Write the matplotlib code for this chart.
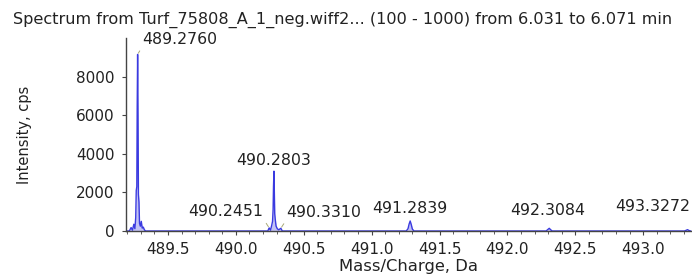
import numpy as np
import matplotlib.pyplot as plt
from matplotlib.ticker import MultipleLocator

plt.rcParams['font.family'] = ['DejaVu Sans']

# 谱图数据（轮廓点：质荷比 / 强度）
mz = [489.19, 489.215, 489.228, 489.238, 489.248, 489.256, 489.262, 489.266, 489.270,
      489.273, 489.276, 489.279, 489.282, 489.286, 489.290, 489.296, 489.303, 489.310,
      489.318, 489.326, 489.335,
      490.235, 490.245, 490.255, 490.264, 490.270, 490.274, 490.277, 490.2803, 490.283,
      490.286, 490.290, 490.296, 490.305, 490.315, 490.331, 490.342,
      491.255, 491.268, 491.276, 491.2839, 491.292, 491.300, 491.312,
      492.285, 492.300, 492.3084, 492.318, 492.330,
      493.305, 493.318, 493.3272, 493.336, 493.35]
intensity = [0, 0, 180, 40, 350, 120, 700, 2100, 2300,
             6500, 9150, 6000, 1900, 1500, 400, 250, 500, 150,
             200, 60, 0,
             0, 160, 40, 300, 500, 1100, 2300, 3100, 2100,
             900, 600, 250, 120, 60, 140, 0,
             0, 120, 360, 520, 330, 100, 0,
             0, 90, 140, 70, 0,
             0, 40, 70, 30, 0]

# 标注的峰
peak_mz = [489.2760, 490.2803, 490.2451, 490.3310, 491.2839, 492.3084, 493.3272]
peak_int = [9150, 3100, 160, 140, 520, 140, 70]
peak_labels = ['489.2760', '490.2803', '490.2451', '490.3310', '491.2839', '492.3084', '493.3272']

y_ticks = [0, 2000, 4000, 6000, 8000]
x_range = (489.19, 493.36)
y_range = (0, 10000)

# 标签偏移（像素）和引线起点
label_offsets = [(42, 15), (0, 11), (-43, 16), (43, 16), (0, 12), (-2, 18), (-35, 23)]
label_relpos = [(0, 0), None, (1, 0), (0, 0), None, None, None]

blue = '#3a3ae0'
grey = '#444444'
txt = '#222222'

fig = plt.figure(figsize=(6.92, 2.79), dpi=100)
ax = fig.add_axes([0.182, 1 - 231 / 279, 0.818, (231 - 38) / 279])

order = np.argsort(mz)
mz_s = np.array(mz)[order]
int_s = np.array(intensity)[order]
ax.fill_between(mz_s, int_s, color='#9a9af0', alpha=0.6, lw=0)
ax.plot(mz_s, int_s, color=blue, lw=1.0)

for m, h, t, off, rp in zip(peak_mz, peak_int, peak_labels, label_offsets, label_relpos):
    kw = {}
    if rp is not None:
        kw['arrowprops'] = dict(arrowstyle='-', color='#a8a878', lw=0.7,
                                relpos=rp, shrinkA=1, shrinkB=1)
    ax.annotate(t, xy=(m, h), xytext=off, textcoords='offset pixels',
                ha='center', va='center', fontsize=11.3, color=txt, **kw)

ax.set_xlim(*x_range)
ax.set_ylim(*y_range)
ax.xaxis.set_major_locator(MultipleLocator(0.5))
ax.xaxis.set_minor_locator(MultipleLocator(0.1))
ax.set_yticks(y_ticks)
ax.xaxis.set_major_formatter(plt.FuncFormatter(lambda v, p: f'{v:.1f}'))

for s in ['top', 'right']:
    ax.spines[s].set_visible(False)
for s in ['left', 'bottom']:
    ax.spines[s].set_color(grey)
    ax.spines[s].set_linewidth(1.0)

ax.tick_params(axis='both', which='major', length=3, width=0.8, color=grey,
               labelsize=11, labelcolor=txt)
ax.tick_params(axis='y', pad=5)
ax.tick_params(axis='x', pad=5)
ax.tick_params(axis='x', which='minor', length=2, width=0.6, color=grey)

ax.set_xlabel('Mass/Charge, Da', fontsize=11.8, color=txt, labelpad=1)
ax.set_ylabel('Intensity, cps', fontsize=10.5, color=txt, labelpad=32)

fig.text(0.019, 1 - 20 / 279,
         'Spectrum from Turf_75808_A_1_neg.wiff2... (100 - 1000) from 6.031 to 6.071 min',
         fontsize=11.6, color=txt, ha='left', va='center')

fig.savefig('out.png', dpi=100)
